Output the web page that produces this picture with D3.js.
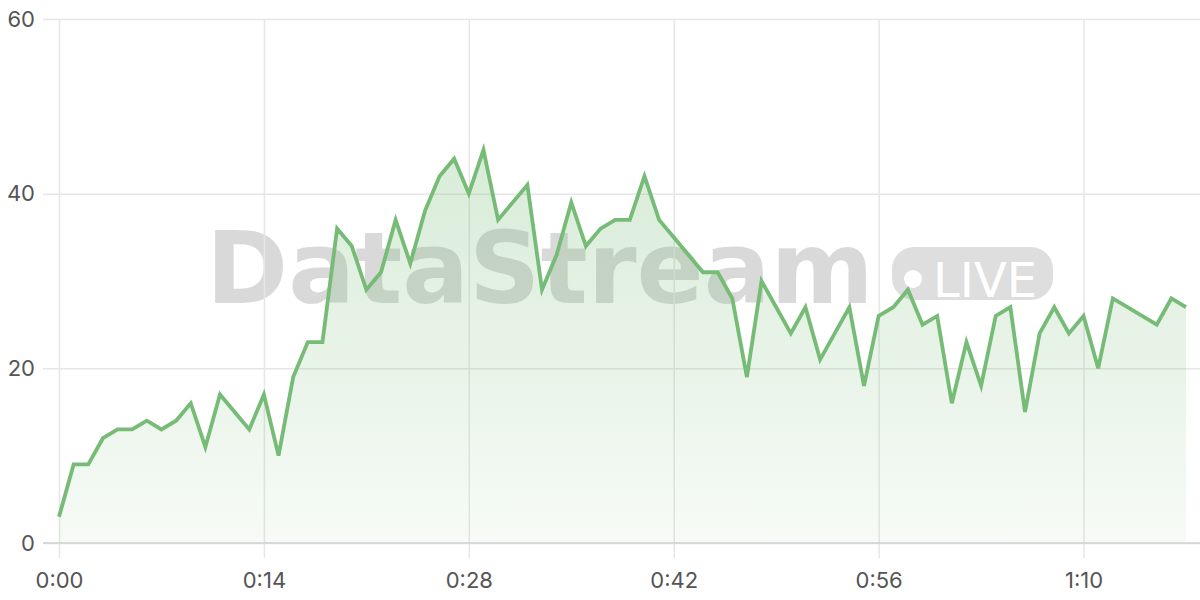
<!DOCTYPE html>
<html>
<head>
<meta charset="utf-8">
<script src="https://cdn.jsdelivr.net/npm/d3@7"></script>
<style>
  html, body { margin: 0; padding: 0; background: #fff; }
  svg { display: block; }
</style>
</head>
<body>
<svg id="chart" width="1200" height="600"></svg>
<script>
// Data: seconds elapsed and the series value at each second
const seconds = d3.range(0, 78);
const values = [3, 9, 9, 12, 13, 13, 14, 13, 14, 16, 11, 17, 15, 13, 17, 10,
  19, 23, 23, 36, 34, 29, 31, 37, 32, 38, 42, 44, 40, 45,
  37, 39, 41, 29, 33, 39, 34, 36, 37, 37, 42, 37, 35, 33,
  31, 31, 28, 19, 30, 27, 24, 27, 21, 24, 27, 18, 26, 27, 29, 25, 26,
  16, 23, 18, 26, 27, 15, 24, 27, 24, 26, 20, 28, 27, 26, 25, 28, 27];
const xTicks = [0, 14, 28, 42, 56, 70];
const yTicks = [0, 20, 40, 60];
const watermarkText = "DataStream";
const badgeText = "LIVE";

(function () {
const svg = d3.select("#chart");
const W = 1200;
const mLeft = 59, mTop = 19, mBottom = 543;

const x = d3.scaleLinear().domain([0, 77]).range([mLeft, 1186]);
const y = d3.scaleLinear().domain([0, 60]).range([mBottom, mTop]);
const fmt = s => Math.floor(s / 60) + ":" + String(s % 60).padStart(2, "0");
const data = seconds.map((s, i) => ({ s, v: values[i] }));

const font = "Inter, 'Open Sans', sans-serif";
const wmFont = "'DejaVu Sans', sans-serif";

// gradient
const defs = svg.append("defs");
const grad = defs.append("linearGradient").attr("id", "areaGrad")
  .attr("x1", 0).attr("y1", 0).attr("x2", 0).attr("y2", 1);
grad.append("stop").attr("offset", "0%").attr("stop-color", "#74b974").attr("stop-opacity", 0.28);
grad.append("stop").attr("offset", "100%").attr("stop-color", "#74b974").attr("stop-opacity", 0.06);

// watermark
const wm = svg.append("g").attr("class", "watermark");
wm.append("text")
  .attr("x", 206).attr("y", 303)
  .attr("font-family", wmFont).attr("font-weight", 700)
  .attr("font-size", 99)
  .attr("fill", "rgba(0,0,0,0.15)")
  .text(watermarkText);
wm.append("rect")
  .attr("x", 892).attr("y", 247).attr("width", 161).attr("height", 53).attr("rx", 22)
  .attr("fill", "rgba(0,0,0,0.13)");
wm.append("circle").attr("cx", 913).attr("cy", 279).attr("r", 9).attr("fill", "#fff");
wm.append("text")
  .attr("x", 933).attr("y", 297)
  .attr("font-family", wmFont).attr("font-size", 48)
  .attr("fill", "#fff")
  .text(badgeText);

// grid + axes
const yAxis = d3.axisLeft(y).tickValues(yTicks).tickSize(0).tickPadding(0);
const gy = svg.append("g").attr("transform", `translate(${mLeft},0)`).call(yAxis);
gy.select(".domain").remove();
gy.selectAll(".tick line").attr("stroke", "#e6e6e6").attr("stroke-width", 1.5)
  .attr("x1", -16).attr("x2", W - mLeft);
gy.selectAll(".tick text").attr("x", -24)
  .attr("font-family", font).attr("font-size", 22).attr("fill", "#555");

const xAxis = d3.axisBottom(x).tickValues(xTicks).tickFormat(fmt).tickSize(0).tickPadding(0);
const gx = svg.append("g").attr("transform", `translate(0,${mBottom})`).call(xAxis);
gx.select(".domain").remove();
gx.selectAll(".tick line").attr("stroke", "#e6e6e6").attr("stroke-width", 1.5)
  .attr("y1", mTop - mBottom).attr("y2", 15);
gx.selectAll(".tick text").attr("y", 29).attr("dy", "0.71em")
  .attr("font-family", font).attr("font-size", 22).attr("fill", "#555");

// area
svg.append("path").datum(data)
  .attr("fill", "url(#areaGrad)")
  .attr("d", d3.area().x(d => x(d.s)).y0(y(0)).y1(d => y(d.v)));

// baseline
svg.append("line").attr("x1", 43).attr("x2", W).attr("y1", y(0)).attr("y2", y(0))
  .attr("stroke", "#d0d0d0").attr("stroke-width", 1.5);

// line
svg.append("path").datum(data)
  .attr("fill", "none").attr("stroke", "#76bb76").attr("stroke-width", 3.8)
  .attr("stroke-linejoin", "miter")
  .attr("d", d3.line().x(d => x(d.s)).y(d => y(d.v)));
})();
</script>
</body>
</html>
